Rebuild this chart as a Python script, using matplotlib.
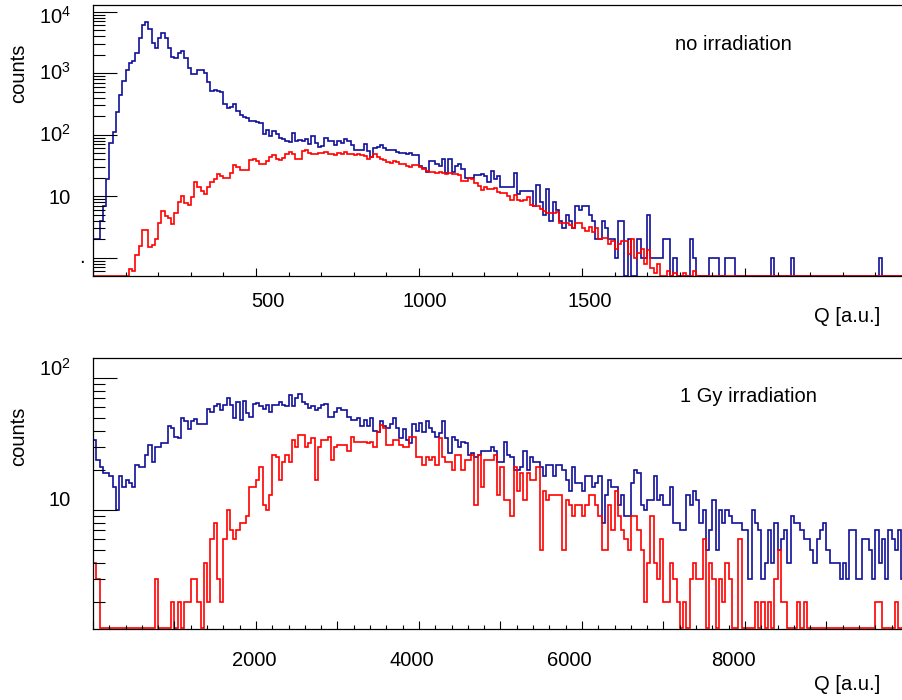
import numpy as np
import matplotlib.pyplot as plt
import matplotlib.transforms as mtransforms
from matplotlib.ticker import LogLocator, NullFormatter, MultipleLocator

plt.rcParams['font.family'] = ['Liberation Sans', 'DejaVu Sans']
plt.rcParams['mathtext.fontset'] = 'custom'
plt.rcParams['mathtext.rm'] = 'Liberation Sans'

# --- data: charge spectra, 250 bins per panel ---
# top panel: no irradiation, Q from 0 to 2500 in bins of 10
top_edges = np.arange(0, 2501, 10)
top_blue = [
    2, 2, 4, 7, 19, 72, 112, 236, 440, 750,
    1130, 1450, 1600, 2100, 3700, 6100, 6900, 5200, 3100, 2600,
    3700, 4450, 3700, 2600, 1850, 1740, 2100, 2300, 1740, 1200,
    970, 970, 1130, 1130, 1000, 730, 515, 530, 515, 490,
    310, 270, 285, 320, 243, 209, 192, 185, 170, 164,
    160, 153, 102, 120, 97, 113, 102, 88, 86, 80,
    77, 107, 78, 83, 78, 85, 71, 97, 73, 62,
    66, 90, 80, 78, 68, 80, 72, 86, 78, 68,
    56, 57, 57, 70, 55, 44, 60, 62, 68, 60,
    56, 57, 56, 52, 50, 50, 48, 51, 46, 46,
    31, 29, 25, 38, 38, 34, 31, 40, 24, 40,
    25, 31, 33, 28, 20, 20, 20, 22, 22, 23,
    21, 17, 26, 19, 21, 14, 14, 14, 14, 24,
    11, 12, 12, 12, 12, 7, 15, 8, 5, 13,
    4, 8, 6, 4, 3, 5, 4, 3, 7, 6,
    7, 7, 5, 4, 2, 2, 4, 3, 2, 2,
    1, 4, 4, 0, 2, 0, 0, 2, 1, 1,
    5, 1, 1, 1, 1, 2, 2, 0, 1, 0,
    0, 0, 0, 2, 1, 0, 0, 0, 0, 1,
    1, 1, 0, 0, 1, 1, 1, 0, 0, 0,
    0, 0, 0, 0, 0, 0, 0, 0, 1, 0,
    0, 0, 0, 0, 1, 0, 0, 0, 0, 0,
    0, 0, 0, 0, 0, 0, 0, 0, 0, 0,
    0, 0, 0, 0, 0, 0, 0, 0, 0, 0,
    0, 1, 0, 0, 0, 0, 0, 0, 0, 0,
]
top_red = [
    0, 0, 0, 0, 0, 0, 0, 0, 0, 0,
    0, 0.65, 0.6, 1.1, 1.55, 2.8, 2.8, 1.5, 1.6, 2.0,
    3.7, 5.7, 4.8, 4.4, 3.5, 5.3, 8.1, 10, 7.8, 7.2,
    9.8, 17, 14, 12, 11, 14, 17, 19, 23, 21.5,
    20, 19.5, 24, 32, 30, 27, 27, 27, 39, 40,
    37, 34, 34, 37, 44, 47, 40, 39, 42, 49,
    53, 49, 41, 41, 54, 56, 51, 48, 48, 50,
    51, 53, 49, 48, 47, 50, 49, 53, 48, 48,
    47, 48, 47, 45, 40, 44, 48, 44, 41, 39,
    36, 35, 38, 36, 34, 33, 31, 30, 32, 32,
    29.5, 27.5, 26, 25, 25, 23.6, 24.7, 23.6, 23, 23.6,
    23, 23, 22, 17.8, 17.8, 19.6, 18.8, 16.2, 14.7, 12.6,
    14.3, 12.9, 12.9, 13.4, 11.9, 11.4, 11.1, 10, 8.7, 10.4,
    8.7, 8.5, 8.7, 9.6, 7.2, 6.9, 6.8, 6.1, 5.8, 5.3,
    5.4, 5.4, 5.6, 3.6, 3.6, 3.7, 3.4, 3.0, 3.6, 3.6,
    3.0, 2.7, 3.1, 2.6, 3.0, 2.0, 2.1, 2.1, 1.7, 1.85,
    1.4, 1.7, 1.85, 1.85, 1.15, 2.0, 1.0, 1.2, 1.4, 0.8,
    1.35, 0.67, 0.57, 0.8, 0, 0, 0.6, 0, 0.57, 0,
    0, 0.57, 0, 0, 0.6, 0, 0, 0, 0, 0,
    0, 0, 0, 0, 0, 0, 0, 0, 0, 0,
    0, 0, 0, 0, 0, 0, 0, 0, 0, 0,
    0, 0, 0, 0, 0, 0, 0, 0, 0, 0,
    0, 0, 0, 0, 0, 0, 0, 0, 0, 0,
    0, 0, 0, 0, 0, 0, 0, 0, 0, 0,
    0, 0, 0, 0, 0, 0, 0, 0, 0, 0,
]

# bottom panel: 1 Gy irradiation, Q from 0 to 10000 in bins of 40
bot_edges = np.arange(0, 10001, 40)
bot_blue = [
    34, 24, 21, 19, 19, 18, 15, 10, 18, 15,
    17, 16, 15, 22, 21, 21, 26, 31, 23, 30,
    30, 32, 32, 43, 42, 36, 35, 50, 47, 41,
    47, 49, 45, 45, 45, 58, 55, 61, 64, 57,
    63, 70, 63, 50, 66, 48, 67, 54, 51, 64,
    65, 61, 58, 63, 55, 62, 63, 66, 62, 61,
    74, 61, 70, 76, 66, 64, 59, 61, 57, 59,
    63, 64, 51, 51, 55, 59, 57, 57, 51, 48,
    48, 50, 43, 48, 43, 50, 40, 39, 47, 43,
    42, 45, 50, 42, 35, 41, 34, 32, 45, 40,
    46, 39, 47, 42, 39, 36, 38, 47, 35, 27,
    36, 34, 30, 33, 32, 26, 27, 25, 26, 28,
    28, 28, 30, 28, 23, 23, 33, 26, 25, 20,
    20, 21, 28, 20, 25, 23, 23, 21, 18, 22,
    22, 18, 22, 22, 20, 17, 14, 21, 16, 16,
    14, 18, 18, 15, 16, 18, 8, 13, 17, 15,
    15, 11, 13, 9, 9, 16, 20, 19, 11, 10,
    12, 12, 18, 12, 13, 11, 11, 15, 8, 8,
    7, 7, 13, 11, 14, 12, 8, 10, 5, 7,
    12, 5, 10, 8, 10, 9, 8, 8, 8, 7,
    7, 3, 10, 8, 7, 3, 4, 7, 4, 8,
    5, 6, 7, 4, 9, 8, 8, 7, 6, 6,
    5, 4, 6, 7, 8, 5, 4, 4, 4, 3,
    4, 3, 7, 7, 3, 3, 6, 6, 5, 3,
    7, 4, 6, 3, 7, 6, 5, 7, 3, 5,
]
bot_red = [
    4, 3, 0, 0, 0, 0, 0, 0, 0, 0,
    0, 0, 0, 0, 0, 0, 0, 0, 0, 3,
    0, 0, 0, 0, 2, 0, 2, 0, 2, 2,
    3, 3, 2, 0, 4, 2, 6, 8, 3, 2,
    6, 10, 7, 6, 7, 8, 8, 9, 15, 15,
    17, 21, 11, 10, 13, 26, 25, 17, 23, 26,
    23, 34, 30, 37, 37, 30, 32, 35, 17, 30,
    34, 34, 36, 24, 30, 31, 31, 31, 28, 36,
    33, 33, 33, 33, 32, 33, 30, 39, 44, 42,
    31, 31, 34, 34, 31, 30, 30, 36, 36, 25,
    25, 22, 25, 24, 25, 22, 35, 25, 23, 23,
    20, 26, 26, 20, 24, 24, 26, 11, 26, 15,
    24, 24, 24, 26, 13, 21, 12, 12, 9, 21,
    14, 19, 12, 19, 17, 17, 21, 5, 14, 12,
    13, 13, 13, 13, 5, 12, 11, 9, 11, 11,
    9, 11, 13, 13, 11, 9, 5, 5, 11, 7,
    14, 9, 7, 6, 5, 9, 9, 7, 5, 2,
    4, 9, 4, 3, 6, 2, 2, 4, 3, 2,
    0, 2, 0, 3, 4, 3, 3, 6, 0, 4,
    3, 0, 3, 2, 4, 3, 0, 0, 6, 0,
    0, 0, 0, 2, 0, 2, 0, 2, 0, 3,
    5, 2, 2, 0, 0, 0, 2, 0, 2, 0,
    0, 0, 0, 0, 0, 0, 0, 0, 0, 0,
    0, 0, 0, 0, 0, 0, 0, 0, 0, 0,
    2, 2, 0, 0, 0, 0, 2, 0, 0, 0,
]

BLUE = '#10109a'
RED = '#ff0000'
FS = 14.5

W, H = 903, 700
fig = plt.figure(figsize=(W / 100, H / 100), dpi=100)


def px_axes(left, top, right, bottom):
    return fig.add_axes([left / W, 1 - bottom / H, (right - left) / W, (bottom - top) / H])


def px_text(x, y, s, **kw):
    fig.text(x / W, 1 - y / H, s, fontsize=FS, **kw)


def shift(dx_px, dy_px):
    return mtransforms.ScaledTranslation(dx_px / 100, -dy_px / 100, fig.dpi_scale_trans)


def draw_hist(ax, edges, values, ymin, color):
    # empty / underflowing bins are drawn on the lower frame, ROOT style
    v = np.maximum(np.asarray(values, dtype=float), ymin * 1.01)
    ax.stairs(v, edges, color=color, lw=1.2, baseline=None)


def style_axes(ax, xmax, ylim, xmajor, xminor):
    ax.set_xlim(0, xmax)
    ax.set_yscale('log')
    ax.set_ylim(*ylim)
    ax.xaxis.set_major_locator(MultipleLocator(xmajor))
    ax.xaxis.set_minor_locator(MultipleLocator(xminor))
    ax.yaxis.set_major_locator(LogLocator(base=10, numticks=20))
    ax.yaxis.set_minor_locator(LogLocator(base=10, subs=np.arange(2, 10), numticks=50))
    for axis in (ax.xaxis, ax.yaxis):
        axis.set_major_formatter(NullFormatter())
        axis.set_minor_formatter(NullFormatter())
    ax.tick_params(which='both', direction='in', top=False, right=False, width=0.8, color='black')
    ax.tick_params(axis='y', which='major', length=17)
    ax.tick_params(axis='y', which='minor', length=8.6)
    ax.tick_params(axis='x', which='major', length=6)
    ax.tick_params(axis='x', which='minor', length=3)
    for sp in ax.spines.values():
        sp.set_linewidth(0.9)


def xlabels(ax, ticks, shifts, dy):
    for t, s in zip(ticks, shifts):
        tr = ax.get_xaxis_transform() + shift(s, dy)
        ax.text(t, 0, str(t), transform=tr, ha='center', va='center', fontsize=FS, clip_on=False)


def ylabels(ax, ticks, labels, shifts):
    for t, lab, s in zip(ticks, labels, shifts):
        tr = ax.get_yaxis_transform() + shift(-22, s)
        ax.text(0, t, lab, transform=tr, ha='right', va='center', fontsize=FS, clip_on=False)


# top panel
ax1 = px_axes(93, 5, 908, 276)
draw_hist(ax1, top_edges, top_blue, 0.504, BLUE)
draw_hist(ax1, top_edges, top_red, 0.504, RED)
style_axes(ax1, 2500, (0.504, 12850), 500, 100)
xlabels(ax1, [500, 1000, 1500], [12, 6, 8], 25.5)
ylabels(ax1, [10, 100, 1000, 10000],
        ['10', r'$\mathregular{10^{2}}$', r'$\mathregular{10^{3}}$', r'$\mathregular{10^{4}}$'],
        [2.5, 0, 0, 5])
# the label of the "1" tick shows only as a dot
ax1.text(0, 1, '.', transform=ax1.get_yaxis_transform() + shift(-8, 0),
         ha='right', va='center', fontsize=FS, clip_on=False)

# bottom panel
ax2 = px_axes(93, 358, 908, 629)
draw_hist(ax2, bot_edges, bot_blue, 1.254, BLUE)
draw_hist(ax2, bot_edges, bot_red, 1.254, RED)
style_axes(ax2, 10000, (1.254, 141.8), 1000, 200)
xlabels(ax2, [2000, 4000, 6000, 8000], [-1.5, -7, -12.5, -12], 31)
ylabels(ax2, [10, 100], ['10', r'$\mathregular{10^{2}}$'], [-9, -9.5])

# axis titles and panel captions
px_text(19, 73, 'counts', rotation=90, ha='center', va='center')
px_text(19, 436, 'counts', rotation=90, ha='center', va='center')
px_text(880, 317, 'Q [a.u.]', ha='right', va='center')
px_text(880, 684, 'Q [a.u.]', ha='right', va='center')
px_text(733, 45, 'no irradiation', ha='center', va='center')
px_text(748.5, 397, '1 Gy irradiation', ha='center', va='center')

fig.savefig('out.png', dpi=100)
